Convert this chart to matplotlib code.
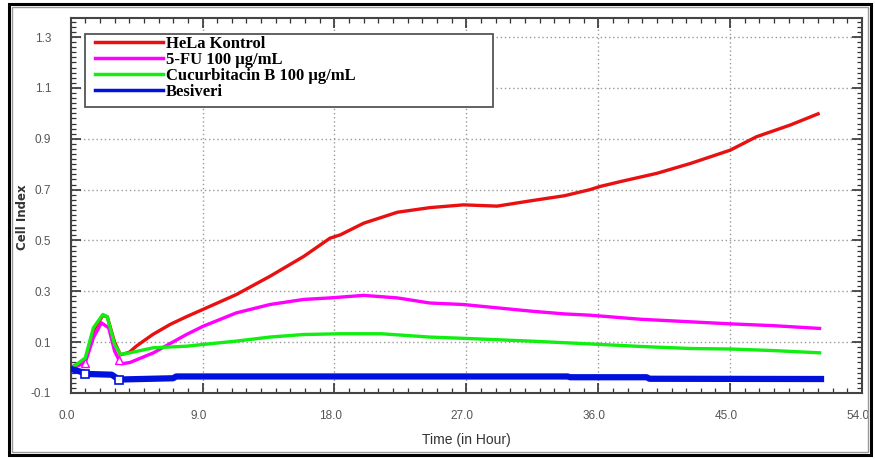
import numpy as np
import matplotlib
matplotlib.use("Agg")
import matplotlib.pyplot as plt
from matplotlib.ticker import MultipleLocator, FormatStrFormatter
from matplotlib.patches import Rectangle
from matplotlib.transforms import ScaledTranslation

# Cell index readings (time in hours)
t_hela = [0, 1.0, 1.6, 2.2, 2.5, 3.0, 3.4, 4.0, 4.5, 5.6, 6.8, 7.9, 9.0, 11.3, 13.6, 15.9,
          17.7, 18.4, 20.0, 22.3, 24.5, 26.8, 29.1, 31.4, 33.7, 35.45, 36.1, 37.7, 40.0,
          42.3, 45.0, 46.8, 49.1, 51.0]
hela = [0.0, 0.03, 0.15, 0.205, 0.2, 0.1, 0.05, 0.06, 0.085, 0.13, 0.17, 0.20, 0.228, 0.287,
        0.359, 0.437, 0.509, 0.522, 0.568, 0.611, 0.629, 0.64, 0.635, 0.656, 0.676, 0.70,
        0.712, 0.734, 0.764, 0.803, 0.855, 0.908, 0.954, 0.998]

t_fu = [0, 1.0, 1.55, 2.1, 2.6, 3.0, 3.3, 3.5, 4.05, 5.65, 7.9, 9.06, 11.3, 13.6, 15.9, 17.7,
        20.0, 22.3, 24.5, 26.8, 29.1, 31.4, 33.7, 35.45, 38.9, 42.3, 45.0, 47.9, 51.1]
fu = [-0.005, 0.019, 0.117, 0.176, 0.156, 0.065, 0.03, 0.015, 0.02, 0.058, 0.13, 0.163, 0.215,
      0.248, 0.268, 0.274, 0.284, 0.274, 0.254, 0.248, 0.235, 0.222, 0.211, 0.206, 0.19,
      0.18, 0.172, 0.165, 0.154]

t_cuc = [0, 1.0, 1.55, 2.2, 2.5, 3.0, 3.4, 4.05, 5.65, 7.9, 9.06, 11.3, 13.6, 15.9, 18.4,
         21.2, 24.5, 26.8, 31.4, 35.45, 38.9, 42.3, 45.0, 47.9, 51.1]
cuc = [-0.005, 0.038, 0.156, 0.209, 0.2, 0.091, 0.052, 0.058, 0.078, 0.084, 0.091, 0.104,
       0.12, 0.13, 0.133, 0.133, 0.12, 0.115, 0.104, 0.093, 0.083, 0.075, 0.073, 0.067, 0.058]

t_med = [0, 0.9, 1.0, 2.8, 3.3, 7.0, 7.2, 33.9, 34.1, 39.3, 39.5, 51.2]
med = [-0.005, -0.02, -0.025, -0.028, -0.047, -0.042, -0.035, -0.035, -0.038, -0.038,
       -0.044, -0.045]

labels = ["HeLa Kontrol", "5-FU 100 \u00b5g/mL", "Cucurbitacin B 100 \u00b5g/mL", "Besiveri"]

fig = plt.figure(figsize=(8.75, 4.59), dpi=100)
ax = fig.add_axes([0.0807, 0.1438, 0.9045, 0.817])

ax.plot(t_hela, hela, color="#e81010", lw=2.4, label=labels[0], zorder=3)
ax.plot(t_fu, fu, color="#ff00ff", lw=2.4, label=labels[1], zorder=4,
        marker="^", markevery=[1, 6], mfc="white", mec="#ff00ff", ms=6)
ax.plot(t_cuc, cuc, color="#11ee11", lw=2.4, label=labels[2], zorder=5)
ax.plot(t_med, med, color="#0010dd", lw=4.5, label=labels[3], zorder=6,
        marker="s", markevery=[2, 4], mfc="white", mec="#0010dd", ms=6, mew=1.2)

ax.set_xlim(0, 54)
ax.set_ylim(-0.1, 1.375)
ax.xaxis.set_major_locator(MultipleLocator(9))
ax.xaxis.set_minor_locator(MultipleLocator(1))
ax.yaxis.set_minor_locator(MultipleLocator(0.02))
ax.set_yticks(np.arange(-0.1, 1.31, 0.2))
ax.xaxis.set_major_formatter(FormatStrFormatter("%.1f"))
ax.yaxis.set_major_formatter(FormatStrFormatter("%.1f"))

tick_font = ["Liberation Sans Narrow", "Liberation Sans", "DejaVu Sans"]
ax.tick_params(which="both", direction="in", top=True, right=True, colors="#333333")
ax.tick_params(which="major", length=7, width=1.2, labelsize=8.5, labelcolor="#555555")
ax.tick_params(axis="x", which="major", pad=12)
ax.tick_params(axis="y", which="major", pad=14)
ax.tick_params(which="minor", length=3.5, width=0.9)
shift = ScaledTranslation(-4 / 100, 0, fig.dpi_scale_trans)
for lab in ax.get_xticklabels():
    lab.set_family(tick_font)
    lab.set_transform(lab.get_transform() + shift)
for lab in ax.get_yticklabels():
    lab.set_family(tick_font)

for s in ax.spines.values():
    s.set_color("#444444")
    s.set_linewidth(1.5)

ax.grid(True, which="major", color="#999999", linestyle=(0, (1, 2)), linewidth=1.0)

ax.set_xlabel("Time (in Hour)", family=tick_font, fontsize=10, color="#333333", labelpad=8)
ax.set_ylabel("Cell Index", fontsize=8.5, color="#333333", fontweight="bold")
ax.yaxis.set_label_coords(-0.052, 0.47)

# legend entries without their own frame, box drawn separately (it is wider than the text)
leg = ax.legend(loc="upper left", bbox_to_anchor=(0.031, 0.953), frameon=False,
                handlelength=4.1, handletextpad=0.15, borderpad=0.0,
                labelspacing=0.0, borderaxespad=0,
                prop={"family": ["Liberation Serif", "DejaVu Serif"], "weight": "bold", "size": 12})
for line in leg.get_lines():
    line.set_linewidth(2.5)
    line.set_marker("")
ax.add_patch(Rectangle((0.018, 0.763), 0.516, 0.194, transform=ax.transAxes, fill=True,
                       facecolor="white", edgecolor="#555555", linewidth=1.3, zorder=7))
leg.set_zorder(8)

# outer frame around the picture
fig.patches.append(Rectangle((9 / 875, 4 / 459), 862 / 875, 451 / 459, transform=fig.transFigure,
                             fill=False, edgecolor="black", linewidth=2.2))
fig.patches.append(Rectangle((12 / 875, 7 / 459), 856 / 875, 445 / 459, transform=fig.transFigure,
                             fill=False, edgecolor="#999999", linewidth=1.0))

fig.savefig("out.png", dpi=100)
